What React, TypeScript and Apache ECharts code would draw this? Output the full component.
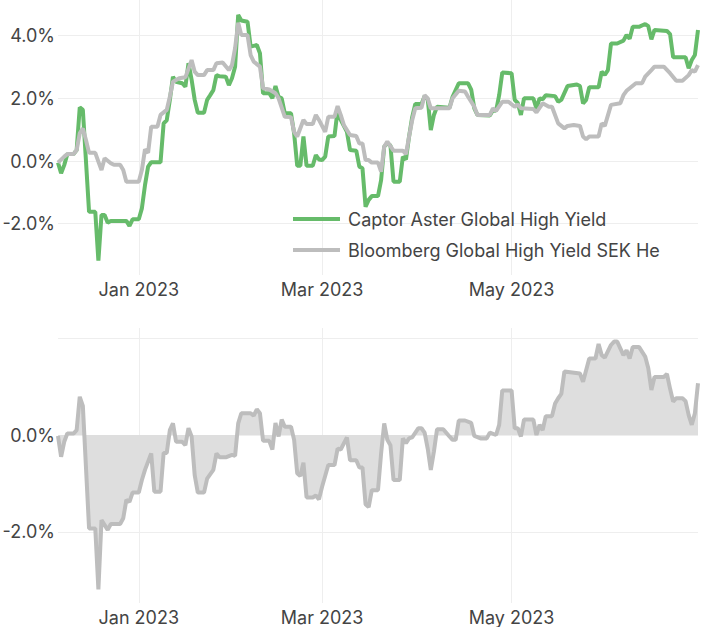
import React, { useEffect, useRef } from "react";
import * as echarts from "echarts";

const seriesNames = ["Captor Aster Global High Yield", "Bloomberg Global High Yield SEK Hedged"];
const monthTicks = ["2023-01-01", "2023-03-01", "2023-05-01"];
const monthNames = ["Jan", "Feb", "Mar", "Apr", "May", "Jun", "Jul", "Aug", "Sep", "Oct", "Nov", "Dec"];
const xStart = "2022-12-06";
const xEnd = "2023-06-30";

const captorDates = [
  "2022-12-06", "2022-12-07", "2022-12-08", "2022-12-09", "2022-12-11", "2022-12-12", "2022-12-13", "2022-12-14",
  "2022-12-16", "2022-12-18", "2022-12-19", "2022-12-20", "2022-12-21", "2022-12-22", "2022-12-23", "2022-12-28",
  "2022-12-29", "2022-12-30", "2023-01-01", "2023-01-02", "2023-01-03", "2023-01-04", "2023-01-05", "2023-01-08",
  "2023-01-09", "2023-01-10", "2023-01-11", "2023-01-12", "2023-01-13", "2023-01-15", "2023-01-16", "2023-01-17",
  "2023-01-18", "2023-01-19", "2023-01-20", "2023-01-22", "2023-01-23", "2023-01-24", "2023-01-25", "2023-01-26",
  "2023-01-27", "2023-01-29", "2023-01-30", "2023-01-31", "2023-02-01", "2023-02-02", "2023-02-03", "2023-02-05",
  "2023-02-06", "2023-02-08", "2023-02-09", "2023-02-10", "2023-02-12", "2023-02-13", "2023-02-14", "2023-02-15",
  "2023-02-16", "2023-02-17", "2023-02-19", "2023-02-20", "2023-02-21", "2023-02-22", "2023-02-23", "2023-02-24",
  "2023-02-26", "2023-02-27", "2023-02-28", "2023-03-01", "2023-03-02", "2023-03-03", "2023-03-05", "2023-03-06",
  "2023-03-07", "2023-03-09", "2023-03-10", "2023-03-12", "2023-03-13", "2023-03-14", "2023-03-15", "2023-03-16",
  "2023-03-17", "2023-03-19", "2023-03-20", "2023-03-21", "2023-03-22", "2023-03-23", "2023-03-24", "2023-03-26",
  "2023-03-27", "2023-03-28", "2023-03-29", "2023-03-30", "2023-03-31", "2023-04-02", "2023-04-03", "2023-04-04",
  "2023-04-05", "2023-04-06", "2023-04-07", "2023-04-11", "2023-04-12", "2023-04-14", "2023-04-17", "2023-04-18",
  "2023-04-19", "2023-04-20", "2023-04-24", "2023-04-25", "2023-04-26", "2023-04-27", "2023-04-28", "2023-05-01",
  "2023-05-02", "2023-05-03", "2023-05-04", "2023-05-05", "2023-05-08", "2023-05-09", "2023-05-10", "2023-05-11",
  "2023-05-12", "2023-05-15", "2023-05-16", "2023-05-17", "2023-05-19", "2023-05-22", "2023-05-23", "2023-05-24",
  "2023-05-25", "2023-05-26", "2023-05-29", "2023-05-30", "2023-05-31", "2023-06-01", "2023-06-02", "2023-06-04",
  "2023-06-06", "2023-06-07", "2023-06-08", "2023-06-09", "2023-06-11", "2023-06-13", "2023-06-14", "2023-06-15",
  "2023-06-16", "2023-06-20", "2023-06-21", "2023-06-22", "2023-06-26", "2023-06-27", "2023-06-28", "2023-06-29",
  "2023-06-30",
];
const captorReturns = [
  -0.05, -0.39, -0.13, 0.22, 0.22, 0.35, 1.71, 1.63,
  -1.62, -1.62, -3.18, -1.72, -1.72, -1.97, -1.91, -1.91,
  -2.07, -1.86, -1.86, -1.51, -0.77, -0.18, -0.04, -0.04,
  1.2, 1.3, 1.95, 2.69, 2.53, 2.48, 2.37, 3.12,
  2.6, 1.95, 1.54, 1.54, 1.95, 2.1, 2.26, 2.74,
  2.7, 2.69, 2.42, 2.64, 3.01, 4.66, 4.48, 4.44,
  3.65, 3.7, 3.44, 2.16, 2.16, 2.0, 2.39, 2.05,
  2.0, 1.52, 1.52, 0.88, -0.15, -0.15, 0.78, -0.15,
  -0.15, 0.19, 0.05, 0.03, 0.14, 0.78, 0.8, 1.63,
  1.31, 0.93, 0.35, 0.33, -0.18, -0.23, -1.46, -1.24,
  -1.12, -1.12, -0.61, 0.46, 0.56, 0.5, -0.66, -0.66,
  0.14, 0.05, 0.78, 1.4, 1.82, 1.82, 2.07, 1.98,
  0.99, 1.47, 1.73, 1.7, 2.05, 2.48, 2.48, 2.28,
  1.68, 1.47, 1.45, 1.63, 1.6, 2.1, 2.82, 2.8,
  1.95, 1.85, 1.47, 2.0, 2.0, 1.68, 2.0, 1.97,
  2.1, 2.07, 1.89, 1.95, 2.39, 2.44, 2.39, 1.84,
  1.95, 2.35, 2.35, 2.85, 2.75, 2.9, 3.75, 3.75,
  3.84, 4.02, 3.9, 4.28, 4.28, 4.37, 4.3, 3.88,
  4.18, 4.15, 4.05, 3.31, 3.31, 2.96, 3.22, 3.38,
  4.18,
];

const benchDates = [
  "2022-12-06", "2022-12-08", "2022-12-09", "2022-12-11", "2022-12-12", "2022-12-13", "2022-12-14", "2022-12-15",
  "2022-12-16", "2022-12-18", "2022-12-19", "2022-12-20", "2022-12-21", "2022-12-23", "2022-12-24", "2022-12-26",
  "2022-12-27", "2022-12-28", "2023-01-01", "2023-01-02", "2023-01-03", "2023-01-04", "2023-01-05", "2023-01-07",
  "2023-01-08", "2023-01-10", "2023-01-11", "2023-01-12", "2023-01-14", "2023-01-16", "2023-01-18", "2023-01-19",
  "2023-01-20", "2023-01-22", "2023-01-23", "2023-01-25", "2023-01-26", "2023-01-28", "2023-01-30", "2023-01-31",
  "2023-02-01", "2023-02-02", "2023-02-03", "2023-02-05", "2023-02-06", "2023-02-07", "2023-02-09", "2023-02-10",
  "2023-02-12", "2023-02-14", "2023-02-15", "2023-02-17", "2023-02-19", "2023-02-20", "2023-02-21", "2023-02-23",
  "2023-02-24", "2023-02-26", "2023-02-27", "2023-02-28", "2023-03-02", "2023-03-03", "2023-03-05", "2023-03-06",
  "2023-03-07", "2023-03-08", "2023-03-10", "2023-03-12", "2023-03-13", "2023-03-14", "2023-03-15", "2023-03-16",
  "2023-03-17", "2023-03-19", "2023-03-20", "2023-03-21", "2023-03-22", "2023-03-24", "2023-03-27", "2023-03-28",
  "2023-03-29", "2023-03-30", "2023-03-31", "2023-04-02", "2023-04-03", "2023-04-04", "2023-04-05", "2023-04-11",
  "2023-04-12", "2023-04-14", "2023-04-16", "2023-04-17", "2023-04-19", "2023-04-20", "2023-04-24", "2023-04-25",
  "2023-04-26", "2023-04-28", "2023-04-30", "2023-05-02", "2023-05-03", "2023-05-04", "2023-05-08", "2023-05-09",
  "2023-05-11", "2023-05-13", "2023-05-14", "2023-05-16", "2023-05-18", "2023-05-19", "2023-05-21", "2023-05-23",
  "2023-05-24", "2023-05-25", "2023-05-26", "2023-05-29", "2023-05-30", "2023-05-31", "2023-06-02", "2023-06-05",
  "2023-06-06", "2023-06-07", "2023-06-08", "2023-06-10", "2023-06-12", "2023-06-13", "2023-06-15", "2023-06-16",
  "2023-06-19", "2023-06-21", "2023-06-23", "2023-06-25", "2023-06-27", "2023-06-28", "2023-06-29", "2023-06-30",
];
const benchReturns = [
  -0.05, 0.14, 0.22, 0.22, 0.35, 0.88, 1.04, 0.67,
  0.26, 0.26, -0.02, -0.29, 0.09, -0.07, -0.12, -0.12,
  -0.29, -0.66, -0.66, -0.29, 0.37, 0.26, 1.09, 1.09,
  1.47, 1.63, 2.05, 2.53, 2.64, 2.67, 3.22, 2.85,
  2.74, 2.74, 2.9, 2.9, 3.12, 3.14, 2.9, 3.06,
  3.6, 4.41, 4.02, 4.02, 3.38, 3.17, 3.01, 2.32,
  2.28, 2.16, 2.0, 1.41, 1.4, 0.93, 0.78, 1.31,
  1.18, 1.18, 1.47, 1.31, 0.93, 1.41, 1.41, 1.75,
  1.47, 1.15, 0.83, 0.8, 0.56, 0.56, 0.03, 0.03,
  -0.05, -0.05, -0.34, 0.46, 0.62, 0.33, 0.33, 0.22,
  0.78, 1.3, 1.68, 1.7, 2.1, 2.0, 1.68, 1.68,
  2.0, 2.24, 2.22, 2.05, 1.73, 1.47, 1.47, 1.68,
  1.6, 1.89, 1.89, 1.73, 1.8, 1.68, 1.66, 1.55,
  1.84, 1.73, 1.73, 1.2, 1.04, 1.12, 1.15, 1.12,
  0.78, 0.69, 0.78, 0.78, 1.2, 1.12, 1.79, 1.84,
  2.1, 2.24, 2.32, 2.48, 2.48, 2.69, 2.9, 3.01,
  3.01, 2.8, 2.56, 2.56, 2.74, 2.9, 2.85, 3.06,
];

const relDates = [
  "2022-12-06", "2022-12-07", "2022-12-08", "2022-12-09", "2022-12-11", "2022-12-12", "2022-12-13", "2022-12-14",
  "2022-12-16", "2022-12-18", "2022-12-19", "2022-12-20", "2022-12-22", "2022-12-23", "2022-12-26", "2022-12-27",
  "2022-12-28", "2022-12-29", "2022-12-30", "2023-01-01", "2023-01-02", "2023-01-03", "2023-01-05", "2023-01-06",
  "2023-01-08", "2023-01-09", "2023-01-10", "2023-01-11", "2023-01-12", "2023-01-13", "2023-01-15", "2023-01-16",
  "2023-01-17", "2023-01-18", "2023-01-19", "2023-01-20", "2023-01-22", "2023-01-23", "2023-01-25", "2023-01-26",
  "2023-01-27", "2023-01-29", "2023-01-31", "2023-02-01", "2023-02-02", "2023-02-03", "2023-02-06", "2023-02-07",
  "2023-02-08", "2023-02-09", "2023-02-10", "2023-02-12", "2023-02-13", "2023-02-14", "2023-02-15", "2023-02-16",
  "2023-02-17", "2023-02-19", "2023-02-20", "2023-02-21", "2023-02-22", "2023-02-23", "2023-02-24", "2023-02-26",
  "2023-02-27", "2023-02-28", "2023-03-01", "2023-03-03", "2023-03-05", "2023-03-06", "2023-03-07", "2023-03-09",
  "2023-03-10", "2023-03-12", "2023-03-13", "2023-03-14", "2023-03-15", "2023-03-16", "2023-03-17", "2023-03-19",
  "2023-03-20", "2023-03-21", "2023-03-22", "2023-03-23", "2023-03-24", "2023-03-26", "2023-03-27", "2023-03-28",
  "2023-03-29", "2023-03-30", "2023-04-01", "2023-04-02", "2023-04-03", "2023-04-04", "2023-04-05", "2023-04-06",
  "2023-04-07", "2023-04-09", "2023-04-11", "2023-04-12", "2023-04-13", "2023-04-14", "2023-04-16", "2023-04-18",
  "2023-04-19", "2023-04-21", "2023-04-23", "2023-04-24", "2023-04-26", "2023-04-27", "2023-04-28", "2023-05-01",
  "2023-05-02", "2023-05-03", "2023-05-04", "2023-05-05", "2023-05-08", "2023-05-09", "2023-05-10", "2023-05-11",
  "2023-05-12", "2023-05-14", "2023-05-15", "2023-05-16", "2023-05-17", "2023-05-18", "2023-05-23", "2023-05-24",
  "2023-05-26", "2023-05-28", "2023-05-29", "2023-05-30", "2023-05-31", "2023-06-02", "2023-06-03", "2023-06-04",
  "2023-06-06", "2023-06-07", "2023-06-08", "2023-06-09", "2023-06-11", "2023-06-13", "2023-06-14", "2023-06-15",
  "2023-06-16", "2023-06-19", "2023-06-20", "2023-06-21", "2023-06-22", "2023-06-23", "2023-06-25", "2023-06-26",
  "2023-06-27", "2023-06-28", "2023-06-29", "2023-06-30",
];
const relValues = [
  -0.02, -0.45, -0.14, 0.03, 0.03, 0.1, 0.79, 0.6,
  -1.93, -1.93, -3.19, -1.76, -1.96, -1.84, -1.84, -1.72,
  -1.34, -1.38, -1.19, -1.19, -0.93, -0.72, -0.38, -1.17,
  -1.17, -0.37, -0.37, 0.1, 0.24, -0.14, -0.14, -0.21,
  0.14, -0.03, -0.83, -1.19, -1.19, -0.9, -0.72, -0.38,
  -0.46, -0.46, -0.41, -0.43, 0.24, 0.45, 0.45, 0.4,
  0.53, 0.45, -0.12, -0.12, -0.3, 0.25, -0.03, 0.32,
  0.17, 0.17, -0.1, -0.79, -0.85, -0.57, -1.29, -1.29,
  -1.25, -1.33, -1.07, -0.62, -0.62, -0.28, -0.3, -0.05,
  -0.52, -0.52, -0.67, -0.67, -1.43, -1.49, -1.14, -1.14,
  -0.38, 0.24, -0.1, -0.21, -0.93, -0.93, -0.07, -0.17,
  -0.07, -0.05, 0.14, 0.14, 0.05, -0.28, -0.72, -0.34,
  0.12, 0.12, -0.03, -0.1, -0.1, 0.3, 0.3, 0.25,
  -0.02, -0.07, -0.07, 0.05, 0.0, 0.21, 0.92, 0.92,
  0.14, 0.14, -0.03, 0.32, 0.32, 0.0, 0.21, 0.1,
  0.39, 0.39, 0.65, 0.76, 0.85, 1.31, 1.27, 1.1,
  1.58, 1.58, 1.88, 1.65, 1.6, 1.86, 1.93, 1.93,
  1.65, 1.75, 1.58, 1.82, 1.82, 1.62, 1.38, 0.93,
  1.2, 1.2, 1.26, 0.96, 0.69, 0.76, 0.76, 0.7,
  0.41, 0.21, 0.45, 1.07,
];

const FONT = "Inter";
const FONT_SIZE = 18;
const TEXT = "#444444";
const GREEN = "#66bb6a";
const GREY = "#bdbdbd";
const GRID_LINE = "#eeeeee";
const LINE_W = 4;

function toTime(s: string): number {
  const [y, m, d] = s.split("-").map(Number);
  return new Date(y, m - 1, d).getTime();
}
function pairs(dates: string[], values: number[]) {
  return dates.map((d, i) => [toTime(d), values[i]]);
}

export default function App() {
  const ref = useRef<HTMLDivElement>(null);
  useEffect(() => {
    if (!ref.current) return;
    const chart = echarts.init(ref.current, null, { renderer: "svg" });
    const tickTimes = monthTicks.map(toTime);
    const xAxisBase = (gridIndex: number) => ({
      type: "value",
      gridIndex,
      min: toTime(xStart),
      max: toTime(xEnd),
      axisLine: { show: false },
      axisTick: { show: false, customValues: tickTimes },
      axisLabel: {
        customValues: tickTimes,
        formatter: (v: number) => {
          const d = new Date(v);
          return `${monthNames[d.getMonth()]} ${d.getFullYear()}`;
        },
        fontFamily: FONT,
        fontSize: FONT_SIZE,
        color: TEXT,
        margin: 5,
      },
      splitLine: { show: true, lineStyle: { color: GRID_LINE, width: 1 } },
    });
    const yAxisBase = (gridIndex: number, min: number, max: number, splitNumber: number, hide: number[]) => ({
      type: "value",
      gridIndex,
      min,
      max,
      splitNumber,
      axisLine: { show: false },
      axisTick: { show: false },
      axisLabel: {
        showMinLabel: false,
        showMaxLabel: false,
        fontFamily: FONT,
        fontSize: FONT_SIZE,
        color: TEXT,
        margin: 3,
        formatter: (v: number) => (hide.includes(Math.round(v * 100) / 100) ? "" : `${v.toFixed(1)}%`),
      },
      splitLine: { show: true, showMinLine: false, showMaxLine: false, lineStyle: { color: GRID_LINE, width: 1 } },
    });
    chart.setOption({
      animation: false,
      backgroundColor: "#ffffff",
      textStyle: { fontFamily: FONT },
      grid: [
        { left: 58, top: 0, width: 640, height: 275, outerBoundsMode: "none" },
        { left: 58, top: 328, width: 640, height: 275, outerBoundsMode: "none" },
      ],
      legend: {
        data: seriesNames,
        orient: "vertical",
        left: 293,
        top: 210,
        padding: 0,
        itemWidth: 47,
        itemHeight: 4,
        itemGap: 13,
        icon: "rect",
        textStyle: {
          fontFamily: FONT,
          fontSize: FONT_SIZE,
          color: TEXT,
          padding: [0, 0, 0, 3],
          width: 316,
          overflow: "truncate",
          ellipsis: "",
        },
      },
      xAxis: [xAxisBase(0), xAxisBase(1)],
      yAxis: [yAxisBase(0, -3.636, 5.136, 5, []), yAxisBase(1, -3.471, 2.211, 3, [2])],
      series: [
        {
          name: seriesNames[0],
          type: "line",
          xAxisIndex: 0,
          yAxisIndex: 0,
          data: pairs(captorDates, captorReturns),
          symbol: "none",
          lineStyle: { color: GREEN, width: LINE_W },
          itemStyle: { color: GREEN },
          z: 2,
        },
        {
          name: seriesNames[1],
          type: "line",
          xAxisIndex: 0,
          yAxisIndex: 0,
          data: pairs(benchDates, benchReturns),
          symbol: "none",
          lineStyle: { color: GREY, width: LINE_W },
          itemStyle: { color: GREY },
          z: 3,
        },
        {
          name: "Relative",
          type: "line",
          xAxisIndex: 1,
          yAxisIndex: 1,
          data: pairs(relDates, relValues),
          symbol: "none",
          lineStyle: { color: GREY, width: LINE_W },
          itemStyle: { color: GREY },
          areaStyle: { color: "#dedede", opacity: 1 },
          z: 2,
        },
      ],
    });
    return () => chart.dispose();
  }, []);
  return <div ref={ref} style={{ position: "fixed", left: 0, top: 0, width: 707, height: 627 }} />;
}
